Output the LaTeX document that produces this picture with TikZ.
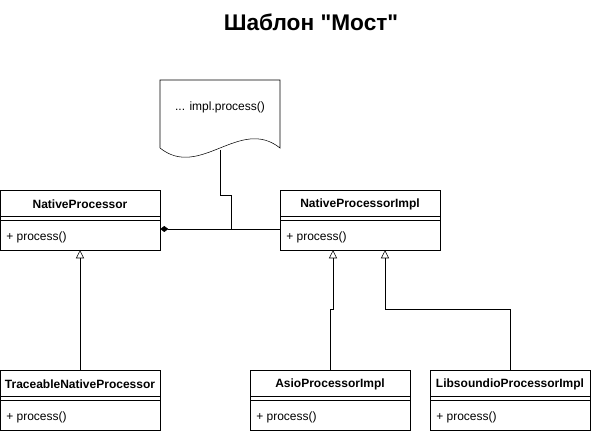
\documentclass[tikz,border=0pt]{standalone}
\usepackage{fontspec}
\setmainfont{Liberation Sans}[Ligatures=TeXOff]
\usetikzlibrary{arrows.meta,calc}

\begin{document}
\begin{tikzpicture}[
  x=0.75pt, y=-0.75pt,
  every node/.style={font=\fontsize{9}{11}\selectfont, inner sep=0pt},
  classbox/.style={draw, minimum width=120pt, minimum height=45pt},
  classname/.style={font=\fontsize{9}{11}\selectfont\bfseries},
  member/.style={anchor=west},
  inherit/.style={-{Triangle[open, length=6pt, width=6pt]}},
  compose/.style={-{Diamond[length=6pt, width=4.5pt]}}
]
\useasboundingbox (0,0) rectangle (591,434);

% ---------- Title ----------
\node[font=\fontsize{17}{20}\selectfont\bfseries] (title) at (311,22) {Шаблон "Мост"};

% ---------- Note ----------
\draw (160,148) -- (160,80) -- (280,80) -- (280,148)
  .. controls (240,116) and (200,180) .. (160,148);
\node (note) at (220,107) {... impl.process()};
\coordinate (notebot) at (220,150);
\coordinate (join) at (231,229);

% ---------- Classes ----------
\foreach \nm/\x/\y/\t in {np/0/190/NativeProcessor,
                          npi/280/190/NativeProcessorImpl,
                          tnp/0/370/TraceableNativeProcessor,
                          asio/250/370/AsioProcessorImpl,
                          lib/430/370/LibsoundioProcessorImpl}{
  \node[classbox] (\nm) at (\x+80,\y+30) {};
  \node[classname] at (\x+80,\y+14) {\t};
  \draw (\x,\y+26) -- ++(160,0);
  \draw (\x,\y+30) -- ++(160,0);
  \node[member] at (\x+6,\y+47) {+ process()};
}

% ---------- Connectors ----------
\draw[compose] ($(npi.west)+(0,9)$) -- ($(np.east)+(0,9)$);
\draw (notebot) -- ++(0,45) -| (join);

\draw[inherit] (tnp) -- (np);
\draw[inherit] (asio.north) -- ++(0,-60) -| ($(npi.south)+(-27,0)$);
\draw[inherit] (lib.north) -- ++(0,-60) -| ($(npi.south)+(25,0)$);

\end{tikzpicture}
\end{document}
